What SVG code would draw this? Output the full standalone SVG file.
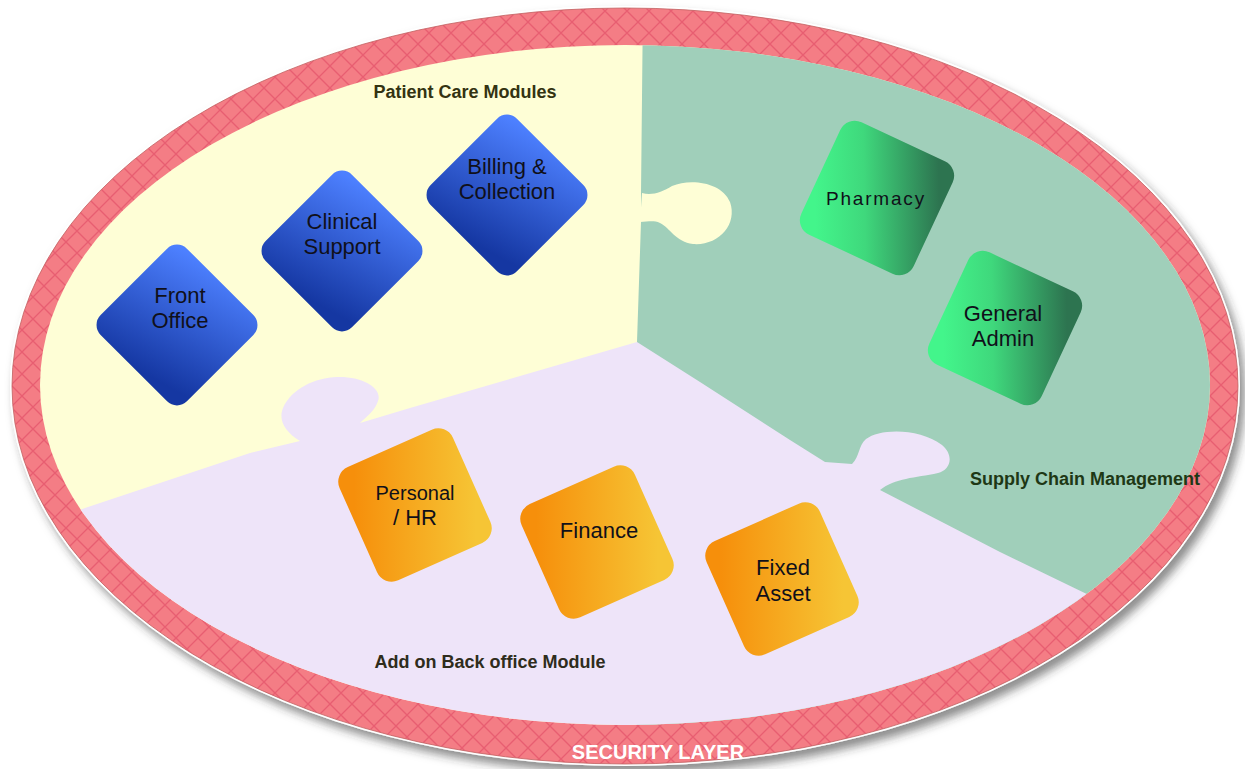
<svg xmlns="http://www.w3.org/2000/svg" width="1245" height="769" viewBox="0 0 1245 769">
<defs>
<style>
.mod{font-family:"Liberation Sans",Arial,sans-serif;font-size:22px;fill:#10101a;text-anchor:middle}
.sec{font-family:"Liberation Sans",Arial,sans-serif;font-size:18px;font-weight:bold;text-anchor:middle}
</style>
<pattern id="mesh" patternUnits="userSpaceOnUse" width="22" height="22">
<rect width="22" height="22" fill="#f47d85"/>
<path d="M0 0L22 22M22 0L0 22" stroke="#e4546a" stroke-width="1.4" opacity="0.75"/>
</pattern>
<filter id="shadow" x="-5%" y="-5%" width="112%" height="116%">
<feDropShadow dx="5" dy="7" stdDeviation="5" flood-color="#333" flood-opacity="0.55"/>
</filter>
<clipPath id="inner"><ellipse cx="625" cy="385" rx="585" ry="340"/></clipPath>
<linearGradient id="blue" x1="0.2" y1="0" x2="0.5" y2="1">
<stop offset="0" stop-color="#4d80ff"/><stop offset="1" stop-color="#1537a2"/>
</linearGradient>
<linearGradient id="green" x1="0.05" y1="0.72" x2="0.95" y2="0.28">
<stop offset="0" stop-color="#43f58b"/><stop offset="0.4" stop-color="#3fd87c"/><stop offset="1" stop-color="#2d7450"/>
</linearGradient>
<linearGradient id="orange" x1="0.05" y1="0.3" x2="0.95" y2="0.7">
<stop offset="0" stop-color="#f68f0b"/><stop offset="1" stop-color="#f6c535"/>
</linearGradient>
</defs>
<rect width="1245" height="769" fill="#ffffff"/>

<g id="security-layer">
<ellipse cx="625" cy="386" rx="615" ry="380" fill="#ffffff" filter="url(#shadow)"/>
<ellipse cx="625" cy="386" rx="613" ry="378" fill="url(#mesh)" stroke="#c06060" stroke-width="0.8"/>
</g>

<g id="regions" clip-path="url(#inner)">
<rect x="0" y="0" width="1245" height="769" fill="#fefed6"/>
<path d="M643 0 L641 193 L641 222 L637 342 L637 800 L1300 800 L1300 0 Z" fill="#a0cfba"/>
<path d="M642 193 C652 196 662 192 672 186 C690 178 722 182 730 202 C738 225 718 246 693 244 C676 242 670 228 660 223 C653 220 648 222 640 222 Z" fill="#fefed6"/>
<path d="M-10 545 L85 508 L250 453 L300 441 C285 432 278 420 283 408 C292 388 315 378 337 377 C362 376 383 388 378 401 C375 411 366 417 360 423 L410 408 L637 342 L700 382 L790 440 L825 462 L852 464 C860 456 858 446 866 439 C880 428 920 428 942 445 C955 456 950 470 938 473 C915 478 895 478 880 490 L1000 552 L1095 598 L1300 700 L1300 800 L-10 800 Z" fill="#eee4f9"/>
</g>

<g id="connectors"/>

<g id="front-office">
<rect x="-61" y="-61" width="122" height="122" rx="14" fill="url(#blue)" transform="translate(177 325) rotate(45)"/>
<text class="mod" x="180" y="303">Front</text>
<text class="mod" x="180" y="328">Office</text>
</g>
<g id="clinical-support">
<rect x="-61" y="-61" width="122" height="122" rx="14" fill="url(#blue)" transform="translate(342 251) rotate(45)"/>
<text class="mod" x="342" y="229">Clinical</text>
<text class="mod" x="342" y="254">Support</text>
</g>
<g id="billing-collection">
<rect x="-61" y="-61" width="122" height="122" rx="14" fill="url(#blue)" transform="translate(507 195) rotate(45)"/>
<text class="mod" x="507" y="174">Billing &amp;</text>
<text class="mod" x="507" y="199">Collection</text>
</g>

<g id="pharmacy">
<rect x="-62" y="-62" width="124" height="124" rx="16" fill="url(#green)" transform="translate(877 198) rotate(25)"/>
<text class="mod" x="876" y="205" style="font-size:19px;letter-spacing:1.8px">Pharmacy</text>
</g>
<g id="general-admin">
<rect x="-62" y="-62" width="124" height="124" rx="16" fill="url(#green)" transform="translate(1005 328) rotate(25)"/>
<text class="mod" x="1003" y="321">General</text>
<text class="mod" x="1003" y="346">Admin</text>
</g>

<g id="personal-hr">
<rect x="-62" y="-62" width="124" height="124" rx="16" fill="url(#orange)" transform="translate(415 505) rotate(-24)"/>
<text class="mod" x="415" y="500" style="font-size:20px">Personal</text>
<text class="mod" x="415" y="525">/ HR</text>
</g>
<g id="finance">
<rect x="-62" y="-62" width="124" height="124" rx="16" fill="url(#orange)" transform="translate(597 542) rotate(-24)"/>
<text class="mod" x="599" y="538">Finance</text>
</g>
<g id="fixed-asset">
<rect x="-62" y="-62" width="124" height="124" rx="16" fill="url(#orange)" transform="translate(782 579) rotate(-24)"/>
<text class="mod" x="783" y="575">Fixed</text>
<text class="mod" x="783" y="601">Asset</text>
</g>

<g id="labels">
<text class="sec" x="465" y="98" fill="#333311">Patient Care Modules</text>
<text class="sec" x="1085" y="485" fill="#1e3815">Supply Chain Management</text>
<text class="sec" x="490" y="668" fill="#2f2c1c">Add on Back office Module</text>
<text x="658" y="759" style="font-family:'Liberation Sans',Arial,sans-serif;font-size:20px;font-weight:bold;fill:#ffffff;text-anchor:middle">SECURITY LAYER</text>
</g>
</svg>
